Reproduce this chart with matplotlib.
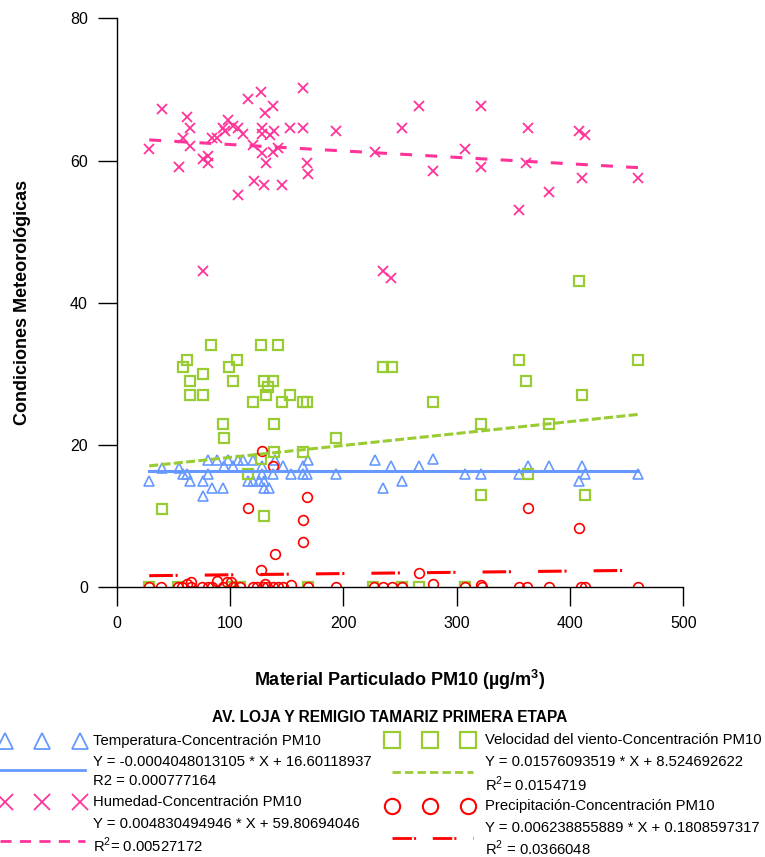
import numpy as np
import matplotlib
matplotlib.use("Agg")
import matplotlib.pyplot as plt

plt.rcParams['font.family'] = ['Liberation Sans', 'DejaVu Sans']
plt.rcParams['mathtext.fontset'] = 'custom'
plt.rcParams['mathtext.rm'] = 'Liberation Sans'
plt.rcParams['mathtext.bf'] = 'Liberation Sans:bold'
plt.rcParams['lines.scale_dashes'] = False

# ---- data ----
temp_x = [28.7, 39.6, 54.9, 58.2, 61.7, 65.1, 76.3, 75.8, 80.2, 80.2, 83.7, 88.1, 94.0, 94.9,
          98.4, 102.2, 107.3, 111.1, 116.1, 120.5, 120.5, 127.9, 127.9, 125.7, 130.2, 130.0,
          134.6, 138.2, 139.7, 146.4, 153.5, 164.6, 164.6, 168.2, 169.1, 193.2, 228.0, 235.4,
          242.2, 251.5, 267.2, 279.5, 307.5, 321.7, 354.6, 362.9, 381.7, 410.6, 413.5, 408.2, 460.0]
temp_y = [14.95, 16.8, 16.8, 15.9, 15.9, 14.95, 14.95, 12.9, 15.9, 17.9, 13.9, 17.9, 13.9, 17.0,
          17.9, 17.0, 17.9, 17.9, 14.95, 14.95, 17.9, 17.0, 15.9, 14.95, 14.95, 13.9,
          13.9, 15.9, 17.9, 17.0, 15.9, 17.0, 15.9, 15.9, 17.9, 15.9, 17.9, 13.9,
          17.0, 14.95, 17.0, 18.0, 15.9, 15.9, 15.9, 17.0, 17.0, 17.0, 15.9, 14.95, 15.9]

hum_x = [28.7, 39.6, 61.7, 65.1, 58.2, 65.1, 54.9, 75.8, 80.2, 80.7, 83.7, 88.1, 94.0, 98.4,
         95.5, 102.9, 107.3, 111.1, 106.7, 116.1, 127.0, 138.2, 130.9, 127.9, 127.9, 135.3,
         139.1, 120.5, 127.9, 131.7, 138.2, 142.6, 121.1, 130.2, 146.1, 152.9, 164.7, 164.1,
         167.6, 169.1, 193.3, 228.0, 251.6, 267.2, 279.5, 307.5, 321.7, 321.4, 362.9, 361.4,
         381.7, 355.2, 408.2, 413.5, 410.6, 460.0, 75.8, 242.2, 235.4]
hum_y = [61.6, 67.2, 66.1, 64.6, 63.2, 62.1, 59.1, 60.2, 60.6, 59.6, 63.2, 63.2, 64.6, 65.7,
         64.2, 64.9, 64.6, 63.8, 55.1, 68.6, 69.7, 67.7, 66.7, 64.6, 63.8, 63.6,
         64.2, 62.2, 61.1, 59.6, 61.2, 61.7, 57.1, 56.6, 56.6, 64.6, 64.6, 70.2,
         59.7, 58.1, 64.1, 61.2, 64.6, 67.7, 58.6, 61.6, 67.7, 59.1, 64.6, 59.7,
         55.6, 53.1, 64.1, 63.6, 57.6, 57.6, 44.5, 43.5, 44.5]

wind_x = [83.2, 127.3, 142.6, 61.7, 58.2, 106.3, 99.0, 76.4, 65.1, 102.2, 130.2, 138.2, 133.7,
          131.7, 65.1, 75.8, 152.9, 120.0, 146.0, 164.1, 167.6, 94.0, 138.8, 94.9, 193.3,
          139.1, 164.1, 127.0, 39.6, 116.1, 130.2, 28.7, 54.3, 101.4, 108.8, 169.1, 226.5,
          251.6, 234.7, 242.7, 408.2, 354.6, 460.0, 361.4, 410.6, 279.5, 321.3, 381.7, 321.7,
          413.5, 362.9, 267.2, 307.5]
wind_y = [34, 34, 34, 32, 31, 32, 31, 30, 29, 29, 29, 29, 28.1,
          27, 27, 27, 27, 26, 26, 26, 26, 23, 23, 21, 21,
          19, 19, 18, 11, 15.9, 10, 0, 0, 0, 0, 0, 0,
          0, 31, 31, 43.1, 32, 32, 29, 27, 26, 23, 23, 13,
          13, 15.9, 0, 0]

prec_x = [127.9, 138.2, 167.6, 116.1, 164.1, 164.6, 139.7, 127.0, 153.8, 88.1, 96.9, 100.8,
          130.9, 65.5, 61.7, 362.9, 408.2, 267.2, 279.5, 321.7,
          28.7, 39.5, 54.2, 57.2, 65.5, 75.7, 80.7, 83.7, 94.0, 102.9, 108.8, 120.5, 123.5,
          129.3, 132.3, 138.2, 142.6, 147.0, 169.1, 193.6, 227.4, 235.4, 242.8, 251.6, 307.5,
          322.2, 354.6, 362.0, 381.7, 410.0, 413.5, 460.0]
prec_y = [19.2, 17.1, 12.7, 11.2, 9.45, 6.4, 4.75, 2.5, 0.28, 0.9, 0.75, 0.75,
          0.5, 0.75, 0.5, 11.2, 8.4, 2.0, 0.5, 0.35] + [0.0] * 32

# trend lines as they appear on the chart (slope, intercept)
temp_fit = [0.0, 16.4]
hum_fit = [-0.00904, 63.16]
wind_fit = [0.01677, 16.59]
prec_fit = [0.00176, 1.58]

legend_title = "AV. LOJA Y REMIGIO TAMARIZ PRIMERA ETAPA"
legend_names = ["Temperatura-Concentración PM10", "Humedad-Concentración PM10",
                "Velocidad del viento-Concentración PM10", "Precipitación-Concentración PM10"]
legend_eqs = ["Y = -0.0004048013105 * X + 16.60118937", "Y = 0.004830494946 * X + 59.80694046",
              "Y = 0.01576093519 * X + 8.524692622", "Y = 0.006238855889 * X + 0.1808597317"]
legend_r2 = ["R2 = 0.000777164", "R$^2$= 0.00527172", "R$^2$= 0.0154719", "R$^2$ = 0.0366048"]

c_temp = '#6699FF'
c_hum = '#FF3399'
c_wind = '#99CC33'
c_prec = '#FF0000'

W, H = 765, 857
fig = plt.figure(figsize=(W / 100, H / 100), dpi=100)
x0, x1, y0, y1 = 116.7, 683.3, 18.3, 587.3
ax = fig.add_axes([x0 / W, 1 - y1 / H, (x1 - x0) / W, (y1 - y0) / H])


def fit_line(xs, fit):
    xx = np.array([min(xs), max(xs)])
    return xx, fit[0] * xx + fit[1]


ax.plot(temp_x, temp_y, ls='none', marker='^', ms=7.5, mfc='none', mec=c_temp, mew=1.2)
ax.plot(wind_x, wind_y, ls='none', marker='s', ms=7, mfc='none', mec=c_wind, mew=1.6)
ax.plot(hum_x, hum_y, ls='none', marker='x', ms=7.5, mec=c_hum, mew=1.3)
ax.plot(prec_x, prec_y, ls='none', marker='o', ms=7, mfc='none', mec=c_prec, mew=1.2)

xx, yy = fit_line(temp_x, temp_fit)
ax.plot(xx, yy, color=c_temp, lw=2.2)
xx, yy = fit_line(wind_x, wind_fit)
ax.plot(xx, yy, color=c_wind, lw=2.2, dashes=(6.5, 2.4))
xx, yy = fit_line(hum_x, hum_fit)
ax.plot(xx, yy, color=c_hum, lw=2.2, dashes=(8.6, 9.5))
xx, yy = fit_line(prec_x, prec_fit)
ax.plot(xx, yy, color=c_prec, lw=2.2, dashes=(17, 2, 1.5, 19.5))

ax.set_xlim(0, 500)
ax.set_ylim(0, 80)
ax.set_xticks([0, 100, 200, 300, 400, 500])
ax.set_yticks([0, 20, 40, 60, 80])
for s in ['top', 'right']:
    ax.spines[s].set_visible(False)
for s in ['left', 'bottom']:
    ax.spines[s].set_linewidth(1.0)
ax.tick_params(direction='out', length=13.7, width=1.0, labelsize=11.5, pad=7)
ax.patch.set_alpha(0)

fig.text(400 / W, 1 - 680 / H, r"Material Particulado PM10 (µg/m$^{\mathbf{3}}$)",
         ha='center', va='center', fontsize=13, fontweight='bold')
fig.text(23 / W, 1 - 302 / H, "Condiciones Meteorológicas", rotation=90,
         ha='center', va='center', fontsize=13, fontweight='bold')

# legend block below the plot (pixel coordinates)
lax = fig.add_axes([0, 0, 1, 1], zorder=-1)
lax.set_xlim(0, W)
lax.set_ylim(H, 0)
lax.axis('off')

lax.text(390, 717, legend_title, ha='center', va='center', fontsize=11.2, fontweight='bold')

mx_left = [5, 42, 80]
mx_right = [392, 430, 468]
lax.plot(mx_left, [741] * 3, ls='none', marker='^', ms=11, mfc='none', mec=c_temp, mew=1.3)
lax.plot(mx_left, [802] * 3, ls='none', marker='x', ms=11, mec=c_hum, mew=1.3)
lax.plot(mx_right, [740] * 3, ls='none', marker='s', ms=11, mfc='none', mec=c_wind, mew=1.6)
lax.plot(mx_right, [806] * 3, ls='none', marker='o', ms=11, mfc='none', mec=c_prec, mew=1.5)

lax.plot([0, 85], [770, 770], color=c_temp, lw=2)
lax.plot([0, 85], [841, 841], color=c_hum, lw=2, dashes=(8, 6))
lax.plot([392, 473], [772, 772], color=c_wind, lw=2, dashes=(6, 3))
lax.plot([392, 473], [838, 838], color=c_prec, lw=2, dashes=(14, 1.5, 1.5, 12))

rows = [(93, [741, 762, 781], 0), (93, [802, 824, 845], 1),
        (485, [740, 762, 784], 2), (485, [806, 828, 848], 3)]
for tx, ys, i in rows:
    lax.text(tx, ys[0], legend_names[i], ha='left', va='center', fontsize=10.7)
    lax.text(tx, ys[1], legend_eqs[i], ha='left', va='center', fontsize=10.7)
    lax.text(tx, ys[2], legend_r2[i], ha='left', va='center', fontsize=10.7)

fig.savefig("out.png", dpi=100)
